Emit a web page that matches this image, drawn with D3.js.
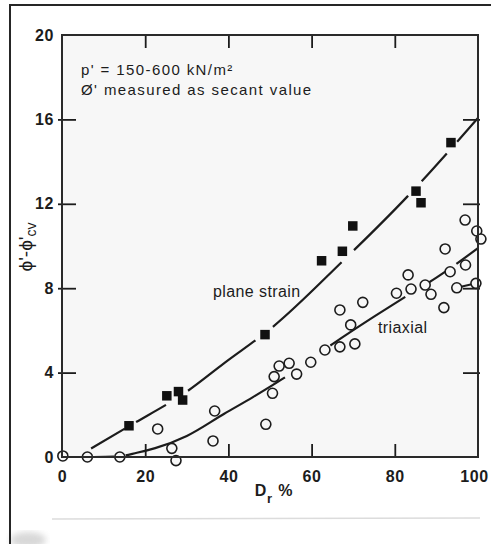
<!DOCTYPE html>
<html>
<head>
<meta charset="utf-8">
<script src="https://cdn.jsdelivr.net/npm/d3@7"></script>
<style>
  html, body { margin: 0; padding: 0; background: #fff; }
  svg { display: block; }
  text { font-family: "Liberation Sans", Arial, Helvetica, sans-serif; fill: #1c1c1c; }
</style>
</head>
<body>
<svg id="chart" width="491" height="544"></svg>
<script>
// Plane strain tests: relative density Dr (%) and phi' - phi'cv (degrees)
const planeStrainDr  = [16.1, 25.2, 28.0, 29.0, 48.8, 62.4, 67.4, 69.9, 85.1, 86.3, 93.5];
const planeStrainPhi = [1.48, 2.90, 3.10, 2.70, 5.80, 9.30, 9.75, 10.95, 12.60, 12.05, 14.90];

// Triaxial tests
const triaxialDr  = [0.2, 6.1, 13.9, 23.0, 26.4, 27.4, 36.3, 36.7, 49.0, 50.6, 51.0, 52.2, 54.6, 56.4,
                     59.8, 63.2, 66.8, 66.8, 69.4, 70.4, 72.3, 80.4, 83.2, 83.9, 87.3, 88.7, 91.8, 92.1,
                     93.3, 94.9, 97.0, 96.9, 99.7, 100.7, 99.5];
const triaxialPhi = [0.05, 0.00, 0.00, 1.33, 0.41, -0.17, 0.76, 2.18, 1.55, 3.02, 3.81, 4.31, 4.44, 3.93,
                     4.49, 5.07, 5.22, 6.97, 6.26, 5.36, 7.33, 7.76, 8.63, 7.96, 8.15, 7.71, 7.08, 9.86,
                     8.78, 8.02, 9.10, 11.23, 10.71, 10.33, 8.23];

// Trend curves drawn through each set
const planeStrainFitDr  = [7, 16, 30, 39, 50.7, 67.2, 83, 100];
const planeStrainFitPhi = [0.40, 1.45, 3.10, 4.45, 6.17, 9.23, 12.34, 16.07];
const triaxialFitDr  = [7, 13, 18, 22.4, 30, 39, 46, 53, 65, 75, 83, 90, 100];
const triaxialFitPhi = [0, 0.02, 0.20, 0.42, 1.00, 2.05, 2.85, 3.70, 5.35, 6.65, 7.65, 8.50, 9.90];

// Dr ranges where each trend curve is inked (broken around the markers)
const planeStrainSegments = [[7, 15.1], [17.8, 25.0], [30.3, 46.5], [50.7, 67.2], [70.2, 83.2], [86.5, 92.5], [95, 100]];
const triaxialSegments    = [[7.6, 12.5], [15.3, 53.6], [64.5, 82.5], [88, 92.5], [94.8, 100]];

// Pair of triaxial results joined by a short tie line
const tiePairDr  = [94.9, 99.5];
const tiePairPhi = [8.02, 8.23];

const xTicks = [0, 20, 40, 60, 80, 100];
const yTicks = [0, 4, 8, 12, 16, 20];

const ink = "#1c1c1c";
const paper = "#f7f7f7";

const svg = d3.select("#chart");
const x = d3.scaleLinear().domain([0, 100]).range([62, 478]);
const y = d3.scaleLinear().domain([0, 20]).range([457, 35]);

// scan smudge and faint rule under the figure
const defs = svg.append("defs");
defs.append("filter").attr("id", "soft").append("feGaussianBlur").attr("stdDeviation", 3);
svg.append("ellipse").attr("cx", 28).attr("cy", 540).attr("rx", 18).attr("ry", 8)
  .attr("fill", "#c8c8c8").attr("opacity", 0.7).attr("filter", "url(#soft)");
svg.append("line").attr("x1", 52).attr("x2", 480).attr("y1", 519).attr("y2", 518)
  .attr("stroke", "#dcdcdc").attr("stroke-width", 1.5);

// outer frame
svg.append("path").attr("d", "M10,544V5H491").attr("fill", "none")
  .attr("stroke", "#262626").attr("stroke-width", 2);

// plot background
svg.append("rect").attr("x", x(0)).attr("y", y(20))
  .attr("width", x(100) - x(0)).attr("height", y(0) - y(20)).attr("fill", paper);

function styleAxis(g) {
  g.attr("font-size", null).attr("font-family", null).attr("color", ink);
  g.select(".domain").remove();
  g.selectAll(".tick line").attr("stroke-width", 1.8);
  g.selectAll(".tick text").attr("font-size", 16).attr("font-weight", "bold").attr("letter-spacing", 0.6);
}

// bottom axis: inward ticks with labels
const gBottom = svg.append("g").attr("transform", `translate(0,${y(0)})`)
  .call(d3.axisBottom(x).tickValues(xTicks).tickSizeInner(-13).tickSizeOuter(0).tickPadding(14));
styleAxis(gBottom);
gBottom.selectAll(".tick").filter(d => d === 0 || d === 100).select("line").remove();
gBottom.selectAll(".tick").filter(d => d === 100).select("text").attr("dx", -4);

// top axis: inward ticks only
const gTop = svg.append("g").attr("transform", `translate(0,${y(20)})`)
  .call(d3.axisBottom(x).tickValues(xTicks.slice(1, -1)).tickSizeInner(13).tickSizeOuter(0).tickFormat(() => ""));
styleAxis(gTop);

// left axis: ticks cross the frame, labels outside
const gLeft = svg.append("g").attr("transform", "translate(58,0)")
  .call(d3.axisLeft(y).tickValues(yTicks).tickSizeInner(-18).tickSizeOuter(0).tickPadding(4));
styleAxis(gLeft);
gLeft.selectAll(".tick").filter(d => d === 0 || d === 20).select("line").remove();

// right axis: ticks only
const gRight = svg.append("g").attr("transform", "translate(463,0)")
  .call(d3.axisRight(y).tickValues(yTicks.slice(1, -1)).tickSizeInner(17).tickSizeOuter(0).tickFormat(() => ""));
styleAxis(gRight);

// broken trend curve: one smooth path, inked only over the given Dr ranges
function brokenCurve(drs, phis, segments, width) {
  const line = d3.line()
    .x((d, i) => x(drs[i]))
    .y((d, i) => y(phis[i]))
    .curve(d3.curveMonotoneX);
  const path = svg.append("path").attr("d", line(drs))
    .attr("fill", "none").attr("stroke", ink).attr("stroke-width", width);
  const node = path.node();
  const total = node.getTotalLength();
  const lengthAt = dr => {
    let lo = 0, hi = total;
    const target = x(dr);
    for (let k = 0; k < 40; k++) {
      const mid = (lo + hi) / 2;
      if (node.getPointAtLength(mid).x < target) lo = mid; else hi = mid;
    }
    return (lo + hi) / 2;
  };
  const dashes = [0];
  let prev = 0;
  segments.forEach(([a, b]) => {
    const la = lengthAt(a), lb = lengthAt(b);
    dashes.push(la - prev, lb - la);
    prev = lb;
  });
  dashes.push(total - prev + 20);
  path.attr("stroke-dasharray", dashes.map(v => v.toFixed(2)).join(" "));
}

brokenCurve(planeStrainFitDr, planeStrainFitPhi, planeStrainSegments, 2.2);
brokenCurve(triaxialFitDr, triaxialFitPhi, triaxialSegments, 2.2);

// tie line between paired triaxial results
svg.append("line")
  .attr("x1", x(tiePairDr[0])).attr("y1", y(tiePairPhi[0]))
  .attr("x2", x(tiePairDr[1])).attr("y2", y(tiePairPhi[1]))
  .attr("stroke", ink).attr("stroke-width", 2);

// triaxial: open circles
svg.append("g").selectAll("circle")
  .data(triaxialDr)
  .join("circle")
  .attr("cx", (d, i) => x(triaxialDr[i]))
  .attr("cy", (d, i) => y(triaxialPhi[i]))
  .attr("r", 5)
  .attr("fill", paper)
  .attr("stroke", ink)
  .attr("stroke-width", 1.6);

// plane strain: filled squares
const sq = 9.5;
svg.append("g").selectAll("rect")
  .data(planeStrainDr)
  .join("rect")
  .attr("x", (d, i) => x(planeStrainDr[i]) - sq / 2)
  .attr("y", (d, i) => y(planeStrainPhi[i]) - sq / 2)
  .attr("width", sq).attr("height", sq)
  .attr("fill", "#111");

// plot frame
svg.append("rect").attr("x", x(0)).attr("y", y(20))
  .attr("width", x(100) - x(0)).attr("height", y(0) - y(20))
  .attr("fill", "none").attr("stroke", "#2a2a2a").attr("stroke-width", 2);

// curve labels
svg.append("text").attr("x", 213).attr("y", 297).attr("font-size", 16).attr("letter-spacing", 0.4)
  .text("plane strain");
svg.append("text").attr("x", 378).attr("y", 333).attr("font-size", 16).attr("letter-spacing", 0.4)
  .text("triaxial");

// test conditions note
svg.append("text").attr("x", 81).attr("y", 75).attr("font-size", 15).attr("letter-spacing", 1.4)
  .text("p' = 150-600 kN/m²");
svg.append("text").attr("x", 81).attr("y", 95).attr("font-size", 15).attr("letter-spacing", 1.4)
  .text("Ø' measured as secant value");

// axis titles
const xTitle = svg.append("text").attr("x", 274).attr("y", 496).attr("font-size", 16)
  .attr("font-weight", "bold").attr("text-anchor", "middle").attr("letter-spacing", 0.8);
xTitle.append("tspan").text("D");
xTitle.append("tspan").attr("font-size", 13).attr("dy", 7).text("r");
xTitle.append("tspan").attr("dy", -7).text(" %");

const yTitle = svg.append("text").attr("transform", "translate(32,247) rotate(-90)")
  .attr("font-size", 19).attr("text-anchor", "middle");
yTitle.append("tspan").text("ϕ'-ϕ'");
yTitle.append("tspan").attr("font-size", 14).attr("dy", 4).text("cv");
</script>
</body>
</html>
